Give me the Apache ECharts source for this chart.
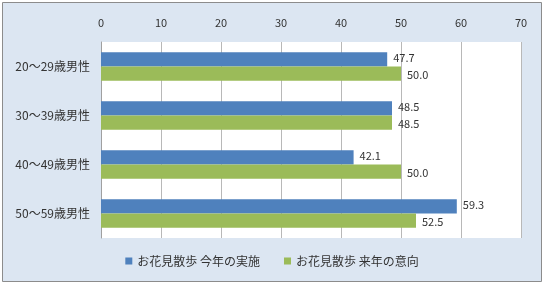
<!DOCTYPE html>
<html>
<head>
<meta charset="utf-8">
<script src="https://cdn.jsdelivr.net/npm/echarts@6/dist/echarts.min.js"></script>
<style>
  html, body {margin: 0; padding: 0; background: #fff;}
  #chart {width: 544px; height: 283px;}
</style>
</head>
<body>
<div id="chart"></div>
<script>
const categories = ['20～29歳男性', '30～39歳男性', '40～49歳男性', '50～59歳男性'];
const thisYear = [47.7, 48.5, 42.1, 59.3];
const nextYear = [50.0, 48.5, 50.0, 52.5];
const seriesNames = ['お花見散歩 今年の実施', 'お花見散歩 来年の意向'];

const font = '"Noto Sans CJK JP", sans-serif';
const chart = echarts.init(document.getElementById('chart'));

chart.setOption({
    animation: false,
    color: ['#4f81bd', '#9bbb59'],
    graphic: [{
        type: 'rect',
        shape: {x: 2.5, y: 2.5, width: 539, height: 279},
        style: {fill: '#dce6f2', stroke: '#8c8c8c', lineWidth: 1},
        z: -10
    }],
    legend: {
        bottom: 11,
        left: 'center',
        itemWidth: 7,
        itemHeight: 7,
        itemGap: 24,
        icon: 'rect',
        textStyle: {fontFamily: font, fontSize: 12, color: '#333'},
        data: seriesNames
    },
    grid: {
        left: 101,
        right: 23,
        top: 42,
        bottom: 45,
        show: true,
        backgroundColor: '#fff',
        borderWidth: 0
    },
    xAxis: {
        type: 'value',
        position: 'top',
        min: 0,
        max: 70,
        interval: 10,
        axisLine: {show: false},
        axisTick: {show: false},
        axisLabel: {fontFamily: font, fontSize: 11, color: '#333', margin: 14},
        splitLine: {lineStyle: {color: '#b8b8b8'}}
    },
    yAxis: {
        type: 'category',
        inverse: true,
        data: categories,
        axisLine: {lineStyle: {color: '#a0a0a0'}},
        axisTick: {length: 4, lineStyle: {color: '#a0a0a0'}},
        axisLabel: {fontFamily: font, fontSize: 12, color: '#333', margin: 11}
    },
    series: [
        {
            name: seriesNames[0],
            type: 'bar',
            data: thisYear,
            barGap: '0%',
            barCategoryGap: '42%',
            label: {
                show: true,
                position: 'right',
                distance: 6,
                formatter: p => p.value.toFixed(1),
                fontFamily: font,
                fontSize: 11,
                color: '#333',
                offset: [0, -2]
            }
        },
        {
            name: seriesNames[1],
            type: 'bar',
            data: nextYear,
            barGap: '0%',
            barCategoryGap: '42%',
            label: {
                show: true,
                position: 'right',
                distance: 6,
                formatter: p => p.value.toFixed(1),
                fontFamily: font,
                fontSize: 11,
                color: '#333',
                offset: [0, 1]
            }
        }
    ]
});
</script>
</body>
</html>
